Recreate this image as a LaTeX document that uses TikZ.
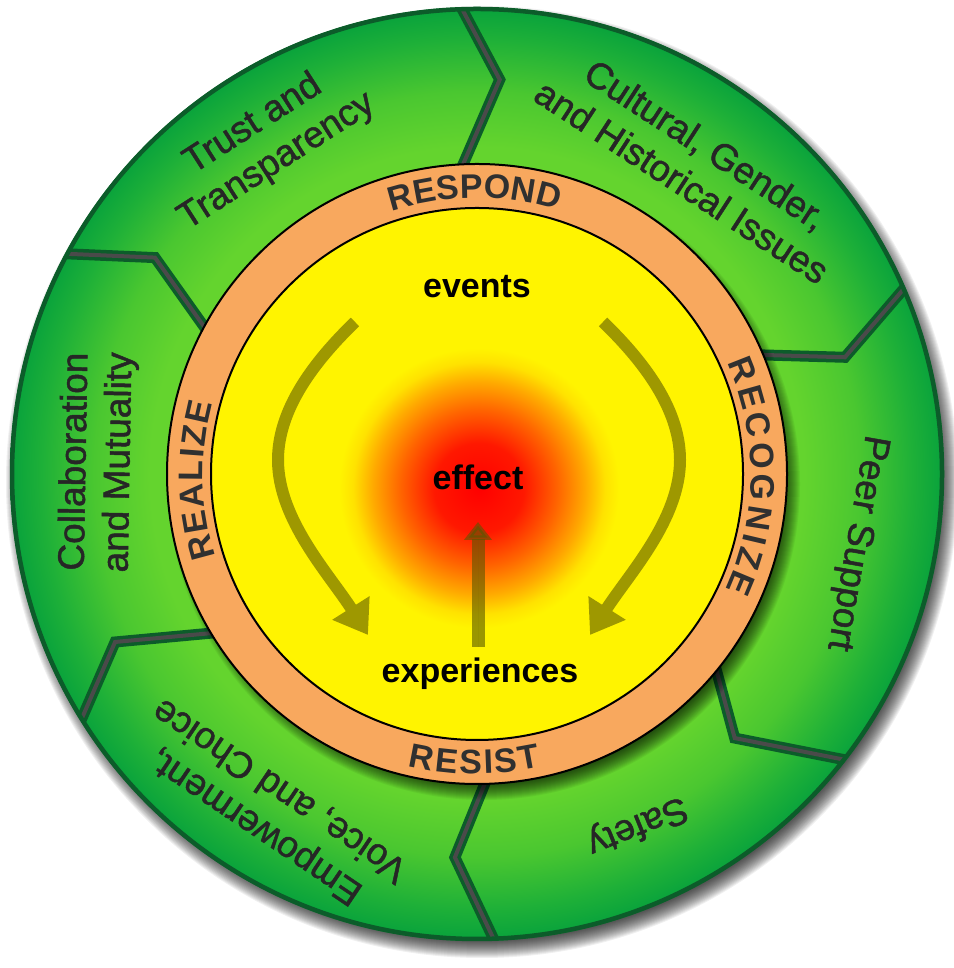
\documentclass[tikz,border=0pt]{standalone}
\usepackage{fontspec}
\setmainfont{Liberation Sans}
\newfontfamily\lsans{Liberation Sans}
\newfontfamily\lsansmed[FakeBold=1.3]{Liberation Sans}
\usetikzlibrary{decorations.text, arrows.meta, calc}
\definecolor{gLight}{RGB}{100,212,46}
\definecolor{gMid}{RGB}{74,199,48}
\definecolor{gDark1}{RGB}{30,176,56}
\definecolor{gDark}{RGB}{8,162,60}
\definecolor{gBorder}{RGB}{12,92,42}
\definecolor{sepGray}{RGB}{74,74,74}
\definecolor{ringOrange}{RGB}{248,168,94}
\definecolor{coreYellow}{RGB}{255,244,0}
\definecolor{coreRed}{RGB}{255,0,0}
\definecolor{coreRa}{RGB}{255,24,0}
\definecolor{coreOr}{RGB}{255,100,0}
\definecolor{coreOrb}{RGB}{255,170,0}
\definecolor{coreYb}{RGB}{255,226,0}
\definecolor{arrowOlive}{RGB}{158,152,0}
\definecolor{arrowDark}{RGB}{88,88,0}
\definecolor{segText}{RGB}{38,38,38}
\definecolor{ringText}{RGB}{48,48,48}
\pgfdeclareradialshading{greenring}{\pgfpoint{0bp}{0bp}}{color(0bp)=(gLight); color(17.5bp)=(gLight); color(20.5bp)=(gMid); color(23.3bp)=(gDark1); color(25bp)=(gDark); color(50bp)=(gDark)}
\pgfdeclareradialshading{hotcore}{\pgfpoint{0bp}{0bp}}{color(0bp)=(coreRed); color(8bp)=(coreRa); color(14bp)=(coreOr); color(19bp)=(coreOrb); color(22.5bp)=(coreYb); color(25bp)=(coreYellow); color(50bp)=(coreYellow)}
\newcommand\ringfnt{\lsans\bfseries\fontsize{34}{34}\selectfont}
\newcommand\segfnt{\lsansmed\fontsize{37}{44}\selectfont}
\newcommand\corefnt{\lsans\bfseries\fontsize{34}{40}\selectfont}
\begin{document}
\begin{tikzpicture}[x=1pt,y=1pt,
  seglabel/.style={font=\segfnt, text=segText, align=center, inner sep=0pt},
  corelabel/.style={font=\corefnt, text=black, inner sep=0pt, anchor=base},
  sepdark/.style={draw=gBorder, line width=11pt, line join=miter},
  sepgray/.style={draw=sepGray, line width=4pt, line join=miter},
  bentarrow/.style={draw=arrowOlive, line width=12pt, -{Triangle[length=32pt,width=42pt]}},
  risearrow/.style={draw=arrowDark, fill=arrowDark, opacity=0.6, line width=13pt, -{Triangle[length=18pt,width=27pt]}},
  ringword/.style={decorate, decoration={text along path, text align=fit to path, text color=ringText}}
]
\useasboundingbox (0,0) rectangle (953,968);
\begin{scope}[shift={(477,494)}]
  % outer drop shadow
  \foreach \k in {0,...,18} \fill[black, opacity=0.06] (5,-8) circle ({458+\k});
  % green ring
  \shade[shading=greenring] (0,0) circle (467);
  \begin{scope}
    \clip (0,0) circle (465);
    \foreach \ao/\at/\rt/\ai in {92.7/86.7/395/94.0, 24.3/17.6/386/23.9, -37.0/-45.7/369/-37.3, -87.2/-93.3/384/-87.3, -147.0/-155.1/399/-147.7, 152.6/146.1/388/153.1}{
      \draw[sepdark] (\ao:480) -- (\at:\rt) -- (\ai:295);
      \draw[sepgray] (\ao:480) -- (\at:\rt) -- (\ai:295);
    }
  \end{scope}
  \draw[gBorder, line width=4.5pt] (0,0) circle (465);
  % orange ring shadow
  \foreach \k in {0,...,16} \fill[black, opacity=0.05] (7,-10) circle ({300+\k});
  \fill[ringOrange, draw=black, line width=2pt] (0,0) circle (310);
  \fill[coreYellow, draw=black, line width=2pt] (0,0) circle (266);
  \shade[shading=hotcore] (2,-14) circle (140);
  % ring words
  \path[ringword, decoration={text={|\ringfnt|RESPOND}}] (108:276) arc[start angle=108, end angle=73, radius=276];
  \path[ringword, decoration={text={|\ringfnt|RECOGNIZE}}] (24:274) arc[start angle=24, end angle=-25, radius=274];
  \path[ringword, decoration={text={|\ringfnt|REALIZE}}] (197.6:274) arc[start angle=197.6, end angle=165, radius=274];
  \path[ringword, decoration={text={|\ringfnt|RESIST}}] (-103.3:300) arc[start angle=-103.3, end angle=-77.7, radius=300];
  % core labels
  \node[corelabel] (events) at (0,176) {events};
  \node[corelabel] (effect) at (1,-16) {effect};
  \node[corelabel] (experiences) at (3,-209) {experiences};
  % arrows
  \coordinate (la0) at (-122,152);
  \coordinate (la1) at (-199,14);
  \coordinate (la2) at (-109,-161);
  \draw[bentarrow] (la0) .. controls (-177,99) and (-199,54) .. (la1) .. controls (-199,-46) and (-147,-101) .. (la2);
  \coordinate (ra0) at (126,152);
  \coordinate (ra1) at (203,14);
  \coordinate (ra2) at (113,-161);
  \draw[bentarrow] (ra0) .. controls (181,99) and (203,54) .. (ra1) .. controls (203,-46) and (151,-101) .. (ra2);
  \coordinate (ca0) at (1,-173);
  \coordinate (ca1) at (1,-48);
  \draw[risearrow] (ca0) -- (ca1);
  % segment labels
  \node[seglabel, rotate=32.6] (trust) at (-212,331) {Trust and\\Transparency};
  \node[seglabel, rotate=-33] (cultural) at (217,311) {Cultural, Gender,\\and Historical Issues};
  \node[seglabel, rotate=-100] (peer) at (379,-69) {Peer Support};
  \node[seglabel, rotate=-158] (safety) at (160,-351) {Safety};
  \node[seglabel, rotate=146] (empower) at (-209,-334) {Empowerment,\\Voice, and Choice};
  \node[seglabel, rotate=89] (collab) at (-379,12) {Collaboration\\and Mutuality};
\end{scope}
\end{tikzpicture}
\end{document}
